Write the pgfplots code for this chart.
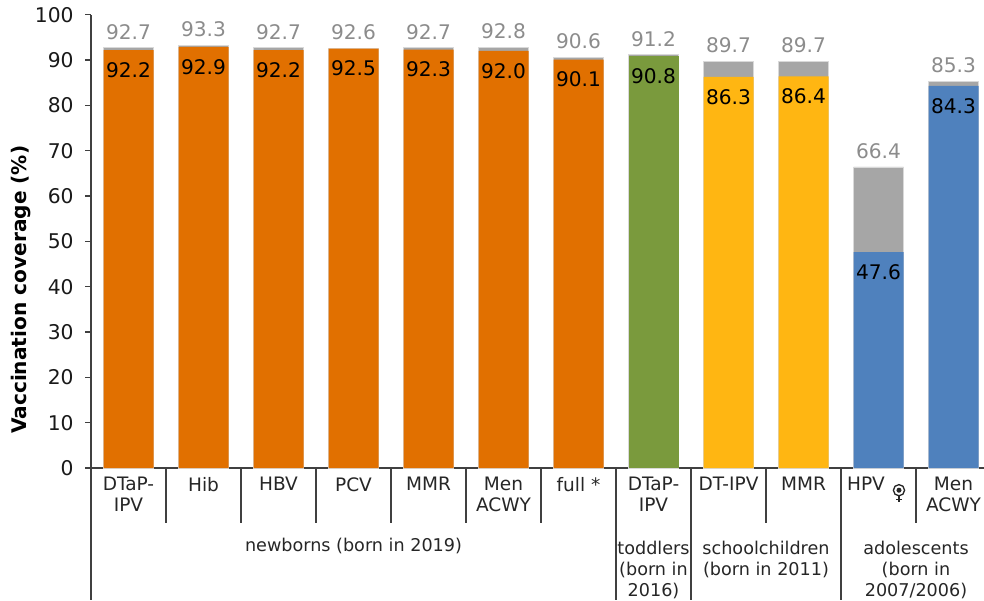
\documentclass[border=0pt]{standalone}
\usepackage{pgfplots}
\pgfplotsset{compat=1.18}
\usepackage{fontspec}
\setmainfont{DejaVu Sans}
\definecolor{corange}{HTML}{E17000}
\definecolor{cgreen}{HTML}{7A9A3D}
\definecolor{cyellow}{HTML}{FFB612}
\definecolor{cblue}{HTML}{4F81BD}
\definecolor{cgrey}{HTML}{A6A6A6}
\definecolor{tgrey}{HTML}{8C8C8C}
\definecolor{axc}{HTML}{404040}
\pgfplotsset{
  total/.style={fill=cgrey,draw=white!85!black,line width=0.5pt,bar shift=0pt,
    nodes near coords,
    nodes near coords style={text=tgrey,anchor=center,yshift=11.9pt,font=\fontsize{15.1}{17}\selectfont,
      /pgf/number format/fixed,/pgf/number format/fixed zerofill,/pgf/number format/precision=1}},
  cover/.style={fill=#1,draw=none,bar shift=0pt,
    nodes near coords,
    nodes near coords style={text=black,anchor=center,yshift=-15pt,font=\fontsize{15.1}{17}\selectfont,
      /pgf/number format/fixed,/pgf/number format/fixed zerofill,/pgf/number format/precision=1}},
}
\begin{document}
\begin{tikzpicture}
\useasboundingbox (0,0) rectangle (738pt,450pt);
\begin{axis}[
  at={(68.25pt,99pt)},anchor=origin,
  scale only axis,
  width=669.75pt,height=340pt,
  xmin=0,xmax=11.9067,ymin=0,ymax=100,
  axis lines=left,
  axis line style={axc,line width=0.8pt,-},
  ytick={0,10,...,100},
  major tick length=4.5pt,
  y tick style={axc,line width=0.8pt},
  x tick style={draw=none},
  tick align=outside,
  xtick={0.5,1.5,2.5,3.5,4.5,5.5,6.5,7.5,8.5,9.5,10.5,11.5},
  xticklabels={{DTaP-\\IPV},Hib,HBV,PCV,MMR,{Men\\ACWY},full *,{DTaP-\\IPV},DT-IPV,MMR,{HPV\hspace*{18.75pt}},{Men\\ACWY}},
  xticklabel style={font=\fontsize{13.9}{15.75}\selectfont,align=center,text=black!85,anchor=north,yshift=1pt},
  yticklabel style={font=\fontsize{15.2}{17}\selectfont,text=black!90,xshift=-5pt},
  /pgf/number format/assume math mode=true,
  ylabel={\textbf{Vaccination coverage (\%)}},
  ylabel style={font=\fontsize{15.1}{16}\selectfont,at={(axis description cs:-0.0785,0.393)},anchor=center},
  clip=false,
  ybar,bar width=37.5pt,
]
\addplot[total] coordinates {(0.5,92.7)(1.5,93.3)(2.5,92.7)(3.5,92.6)(4.5,92.7)(5.5,92.8)(6.5,90.6)(7.5,91.2)(8.5,89.7)(9.5,89.7)(10.5,66.4)(11.5,85.3)};
\addplot[cover=corange] coordinates {(0.5,92.2)(1.5,92.9)(2.5,92.2)(3.5,92.5)(4.5,92.3)(5.5,92.0)(6.5,90.1)};
\addplot[cover=cgreen] coordinates {(7.5,90.8)};
\addplot[cover=cyellow] coordinates {(8.5,86.3)(9.5,86.4)};
\addplot[cover=cblue] coordinates {(10.5,47.6)(11.5,84.3)};
% separators
\pgfplotsinvokeforeach{1,2,3,4,5,6,9,11}{
  \draw[axc,line width=0.8pt] (axis cs:#1,0) -- (axis cs:#1,-12.13);
}
\pgfplotsinvokeforeach{0,7,8,10}{
  \draw[axc,line width=0.8pt] (axis cs:#1,0) -- (axis cs:#1,-29.12);
}
\path[font=\fontsize{13.2}{15.75}\selectfont,text=black!85,align=center]
  (axis cs:3.5,-17.3) node[anchor=center] {newborns (born in 2019)}
  (axis cs:7.5,-17.43) node[anchor=north,yshift=8.3pt] {toddlers\\(born in\\2016)}
  (axis cs:9,-17.43) node[anchor=north,yshift=8.3pt] {schoolchildren\\(born in 2011)}
  (axis cs:11,-17.43) node[anchor=north,yshift=8.3pt] {adolescents\\(born in\\2007/2006)};
% HPV symbol
\draw[black!85,line width=1pt] (axis cs:10.773,-4.9) circle[radius=4.2pt];
\fill[black!85] (axis cs:10.773,-4.9) circle[radius=1.9pt];
\draw[black!85,line width=1pt] (axis cs:10.773,-6.0) -- (axis cs:10.773,-7.6);
\draw[black!85,line width=1pt] (axis cs:10.735,-6.9) -- (axis cs:10.811,-6.9);
\end{axis}
\end{tikzpicture}
\end{document}
